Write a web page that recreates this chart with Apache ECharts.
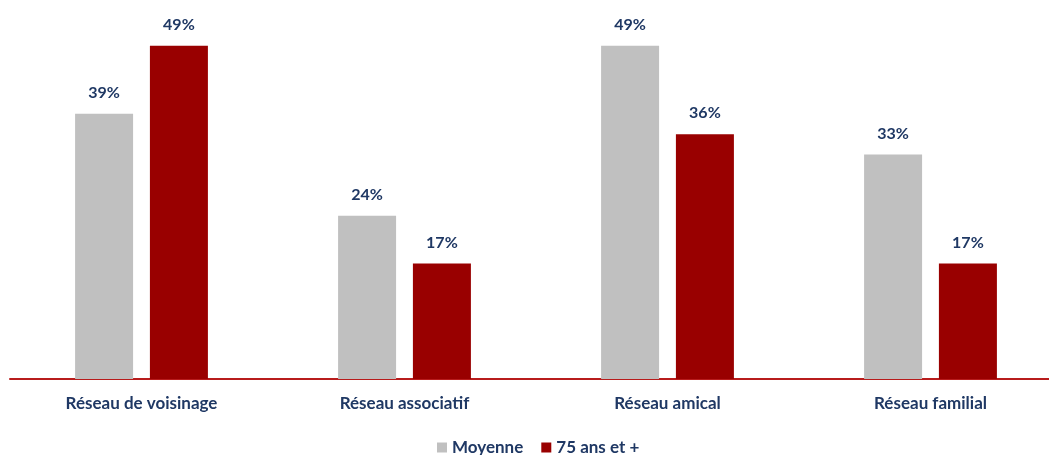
<!DOCTYPE html>
<html>
<head>
<meta charset="utf-8">
<script src="https://cdn.jsdelivr.net/npm/echarts@6/dist/echarts.min.js"></script>
<style>
  html, body { margin: 0; padding: 0; background: #fff; overflow: hidden; }
  #chart { width: 1062px; height: 455px; }
</style>
</head>
<body>
<div id="chart"></div>
<script>
// données
const categories = ['Réseau de voisinage', 'Réseau associatif', 'Réseau amical', 'Réseau familial'];
const moyenne = [39, 24, 49, 33];
const ans75 = [49, 17, 36, 17];

const navy = '#1F3864';
const font = 'Lato';

const chart = echarts.init(document.getElementById('chart'));

const labelStyle = {
  show: true,
  position: 'top',
  distance: 13,
  formatter: '{c}%',
  color: navy,
  fontWeight: 'bold',
  fontSize: 16,
  fontFamily: font
};

chart.setOption({
  backgroundColor: '#fff',
  animation: false,
  grid: { left: 10, right: 0, top: 39, bottom: 76 },
  legend: {
    top: 439,
    left: 437,
    padding: 0,
    itemWidth: 10,
    itemHeight: 10,
    itemGap: 18,
    icon: 'rect',
    textStyle: { color: navy, fontWeight: 'bold', fontSize: 17, fontFamily: font }
  },
  xAxis: {
    type: 'category',
    data: categories,
    axisLine: { lineStyle: { color: '#B81C1C', width: 2 } },
    axisTick: { show: false },
    axisLabel: { color: navy, fontWeight: 'bold', fontSize: 17, fontFamily: font, margin: 16 }
  },
  yAxis: {
    type: 'value',
    min: 0,
    max: 50,
    show: false,
    splitLine: { show: false }
  },
  series: [
    {
      name: 'Moyenne',
      type: 'bar',
      data: moyenne,
      barWidth: 58,
      barGap: '29%',
      itemStyle: { color: '#C0C0C0' },
      label: labelStyle
    },
    {
      name: '75 ans et +',
      type: 'bar',
      data: ans75,
      barWidth: 58,
      barGap: '29%',
      itemStyle: { color: '#990000' },
      label: labelStyle
    }
  ]
});
</script>
</body>
</html>
